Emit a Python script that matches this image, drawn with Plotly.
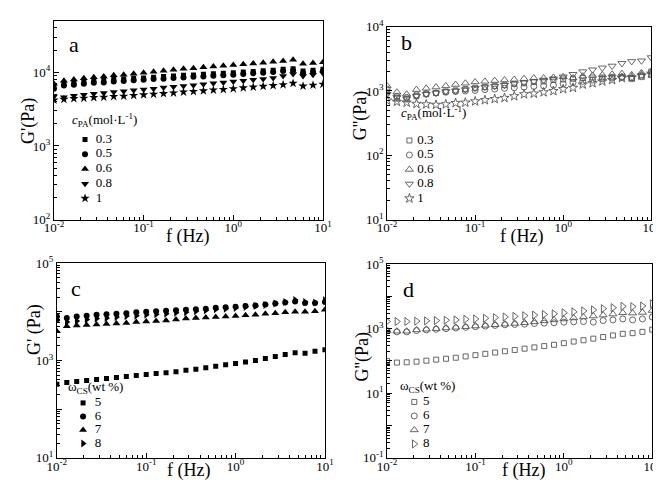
import plotly.graph_objects as go

# ---------------- data ----------------
freq = [0.01, 0.01292, 0.01668, 0.02154, 0.02783, 0.03594, 0.04642, 0.05995, 0.07743,
        0.1, 0.1292, 0.1668, 0.2154, 0.2783, 0.3594, 0.4642, 0.5995, 0.7743,
        1.0, 1.292, 1.668, 2.154, 2.783, 3.594, 4.642, 5.995, 7.743, 10.0]

# panel a: G' vs c_PA
cpa_labels = ["0.3", "0.5", "0.6", "0.8", "1"]
a_03 = [6500, 7000, 7200, 7400, 7600, 7800, 8000, 8100, 8300, 8400, 8600, 8800, 8900, 9100,
        9200, 9400, 9600, 9700, 9900, 10100, 10300, 10500, 10700, 11000, 11200, 10400, 10700, 11000]
a_05 = [6000, 6600, 6800, 7000, 7200, 7300, 7500, 7600, 7800, 7900, 8100, 8200, 8400, 8500,
        8700, 8800, 9000, 9100, 9300, 9500, 9700, 9900, 10100, 10400, 10600, 9800, 10100, 10400]
a_06 = [7000, 7700, 8000, 8300, 8600, 8800, 9100, 9300, 9600, 9900, 10200, 10500, 10800, 11200,
        11400, 11700, 12000, 12300, 12600, 12900, 13200, 13500, 13900, 14300, 14800, 13100, 13400, 13700]
a_08 = [4700, 4600, 4800, 4950, 5100, 5250, 5400, 5550, 5700, 5850, 6000, 6200, 6350, 6500,
        6700, 6900, 7100, 7300, 7500, 7700, 7900, 8100, 8400, 8900, 9500, 8900, 9300, 9700]
a_10 = [4200, 4300, 4400, 4450, 4550, 4600, 4700, 4750, 4850, 4950, 5050, 5150, 5250, 5400,
        5500, 5600, 5750, 5850, 6000, 6150, 6300, 6450, 6600, 6800, 7100, 6500, 6700, 6900]

# panel b: G'' vs c_PA
b_03 = [955, 760, 740, 830, 890, 930, 980, 1020, 1070, 1120, 1150, 1200, 1230, 1290,
        1320, 1380, 1410, 1480, 1510, 1550, 1590, 1620, 1620, 1660, 1660, 1590, 1740, 2000]
b_05 = [1070, 830, 795, 870, 910, 930, 955, 980, 1000, 1020, 1050, 1070, 1100, 1120,
        1150, 1180, 1200, 1230, 1290, 1350, 1410, 1480, 1550, 1590, 1620, 1550, 1660, 1780]
b_06 = [1200, 955, 890, 1050, 1100, 1150, 1200, 1260, 1320, 1380, 1410, 1450, 1480, 1510,
        1550, 1590, 1590, 1620, 1660, 1590, 1700, 1740, 1780, 1820, 1860, 1780, 1910, 2000]
b_08 = [890, 795, 760, 830, 890, 930, 980, 1000, 1050, 1100, 1150, 1180, 1230, 1290,
        1350, 1410, 1480, 1550, 1660, 1820, 2000, 2140, 2290, 2450, 2690, 2880, 2950, 3310]
b_10 = [710, 680, 660, 630, 620, 610, 620, 650, 660, 690, 720, 750, 780, 830,
        890, 910, 955, 1000, 1070, 1120, 1260, 1320, 1410, 1480, 1590, 1620, 1740, 1860]

# panel c: G' vs w_CS
wcs_labels = ["5", "6", "7", "8"]
c_5 = [324, 355, 372, 389, 407, 427, 447, 468, 490, 513, 537, 562, 589, 631,
       661, 708, 759, 813, 871, 933, 1000, 1096, 1202, 1318, 1445, 1413, 1549, 1660]
c_6 = [7940, 7410, 7940, 8320, 8710, 8910, 9120, 9330, 9770, 10000, 10230, 10470, 10720, 10960,
       11220, 11480, 12020, 12300, 12590, 13180, 13490, 14130, 14790, 15490, 16220, 15140, 15140, 15850]
c_7 = [3980, 5010, 5250, 5370, 5500, 5620, 5750, 5890, 6170, 6310, 6460, 6610, 6920, 7240,
       7410, 7590, 7760, 7940, 8130, 8510, 8710, 9120, 9330, 9770, 10000, 10000, 10230, 10960]
c_8 = [6610, 6170, 6460, 6920, 7240, 7410, 7760, 8130, 8320, 8710, 8910, 9120, 9550, 9770,
       10230, 10720, 11220, 11480, 12020, 12590, 13180, 13800, 14790, 15850, 17380, 15850, 15490, 17380]

# panel d: G'' vs w_CS
d_5 = [100, 89, 91, 95, 102, 110, 117, 126, 138, 151, 166, 182, 200, 219,
       240, 263, 288, 316, 355, 398, 437, 490, 550, 617, 692, 724, 794, 933]
d_6 = [851, 794, 794, 871, 912, 955, 1000, 1047, 1096, 1148, 1202, 1259, 1318, 1349,
       1380, 1445, 1479, 1514, 1585, 1622, 1660, 1585, 1778, 1862, 1995, 1862, 1995, 2291]
d_7 = [851, 832, 832, 912, 955, 1000, 1047, 1096, 1148, 1202, 1259, 1318, 1380, 1445,
       1514, 1622, 1738, 1862, 1995, 2138, 2291, 2455, 2630, 2818, 3090, 3020, 3162, 3631]
d_8 = [1660, 1660, 1660, 1698, 1738, 1778, 1820, 1862, 1950, 1995, 2089, 2188, 2291, 2399,
       2512, 2630, 2754, 2884, 3090, 3311, 3548, 3802, 4169, 4467, 4898, 4786, 5012, 5888]

x_tickvals = [0.01, 0.1, 1, 10]
x_ticktext = ["10<sup>-2</sup>", "10<sup>-1</sup>", "10<sup>0</sup>", "10<sup>1</sup>"]

cpa_title = "<i>c</i><sub>PA</sub>(mol·L<sup>-1</sup>)"
wcs_title = "ω<sub>CS</sub>(wt %)"

# ---------------- figure ----------------
FONT = "Liberation Serif"
W, H = 661, 483
fig = go.Figure()

sym_a = ["square", "circle", "triangle-up", "triangle-down", "star"]
sym_b = ["square-open", "circle-open", "triangle-up-open", "triangle-down-open", "star-open"]
sym_c = ["square", "circle", "triangle-up", "triangle-right"]
sym_d = ["square-open", "circle-open", "triangle-up-open", "triangle-right-open"]
size_5 = [5, 6, 7, 7, 7]
size_4 = [5, 6, 7, 7]


def marker_style(sym, sz, filled):
    if filled:
        return dict(symbol=sym, size=sz, color="black", line=dict(width=0))
    return dict(symbol=sym, size=sz, color="#555555", line=dict(width=0.9, color="#555555"))


def add_panel(series, labels, syms, sizes, k, filled, leg_k):
    xa, ya = ("x" if k == 1 else f"x{k}"), ("y" if k == 1 else f"y{k}")
    lxa, lya = f"x{leg_k}", f"y{leg_k}"
    for i, (s, lab, sym, sz) in enumerate(zip(series, labels, syms, sizes)):
        m = marker_style(sym, sz, filled)
        fig.add_trace(go.Scatter(x=freq, y=s, mode="markers", name=lab, marker=m,
                                 xaxis=xa, yaxis=ya, showlegend=False))
        # legend entry (key symbol + label) on a hidden legend axis
        fig.add_trace(go.Scatter(x=[0], y=[i], mode="markers", marker=m, xaxis=lxa, yaxis=lya,
                                 showlegend=False, cliponaxis=False, hoverinfo="skip"))
        fig.add_trace(go.Scatter(x=[1], y=[i], mode="text", text=[lab], textposition="middle right",
                                 textfont=dict(family=FONT, size=13, color="black"),
                                 xaxis=lxa, yaxis=lya, showlegend=False, cliponaxis=False,
                                 hoverinfo="skip"))


add_panel([a_03, a_05, a_06, a_08, a_10], cpa_labels, sym_a, size_5, 1, True, 5)
add_panel([b_03, b_05, b_06, b_08, b_10], cpa_labels, sym_b, size_5, 2, False, 6)
add_panel([c_5, c_6, c_7, c_8], wcs_labels, sym_c, size_4, 3, True, 7)
add_panel([d_5, d_6, d_7, d_8], wcs_labels, sym_d, size_4, 4, False, 8)


def axis_common():
    return dict(type="log", showline=True, linecolor="black", linewidth=1, mirror=True,
                ticks="inside", ticklen=5, tickcolor="black", tickwidth=1,
                showgrid=False, zeroline=False,
                tickfont=dict(family=FONT, size=13, color="black"),
                minor=dict(ticks="inside", ticklen=3, tickcolor="black", dtick="D1", showgrid=False))


def px(x0, x1):
    return [x0 / W, x1 / W]


def py(top, bottom):
    return [1 - bottom / H, 1 - top / H]


def xaxis(dom, anchor):
    d = axis_common()
    d.update(domain=dom, anchor=anchor, range=[-2, 1], tickmode="array",
             tickvals=x_tickvals, ticktext=x_ticktext, ticklabelstandoff=-4)
    return d


def yaxis(dom, anchor, rng, vals, texts):
    d = axis_common()
    d.update(domain=dom, anchor=anchor, range=rng, tickmode="array", tickvals=vals, ticktext=texts)
    return d


def legend_axes(mx, tx, y0, step, n, k):
    xa = dict(domain=px(mx, tx), range=[0, 1], visible=False, fixedrange=True, anchor=f"y{k}")
    ya = dict(domain=py(y0 - step / 2, y0 + step * (n - 0.5)), range=[n - 0.5, -0.5],
              visible=False, fixedrange=True, anchor=f"x{k}")
    return xa, ya


lx5, ly5 = legend_axes(69, 80, 127, 15.25, 5, 5)
lx6, ly6 = legend_axes(403, 411, 128, 15.0, 5, 6)
lx7, ly7 = legend_axes(67, 79, 400, 14.0, 4, 7)
lx8, ly8 = legend_axes(408, 417, 399, 14.5, 4, 8)

fig.update_layout(
    width=W, height=H, margin=dict(l=0, r=0, t=0, b=0),
    paper_bgcolor="white", plot_bgcolor="white",
    font=dict(family=FONT, color="black"),
    showlegend=False,
    xaxis=xaxis(px(37, 314), "y"),
    yaxis=yaxis(py(4, 210), "x", [2, 4.699], [100, 1000, 10000],
                ["10<sup>2</sup>", "10<sup>3</sup>", "10<sup>4</sup>"]),
    xaxis2=xaxis(px(380, 652), "y2"),
    yaxis2=yaxis(py(10, 210), "x2", [1, 4], [10, 100, 1000, 10000],
                 ["10<sup>1</sup>", "10<sup>2</sup>", "10<sup>3</sup>", "10<sup>4</sup>"]),
    xaxis3=xaxis(px(40, 316), "y3"),
    yaxis3=yaxis(py(255, 457), "x3", [1, 5], [10, 100, 1000, 10000, 100000],
                 ["10<sup>1</sup>", " ", "10<sup>3</sup>", " ", "10<sup>5</sup>"]),
    xaxis4=xaxis(px(380, 653), "y4"),
    yaxis4=yaxis(py(256, 457), "x4", [-1, 5], [0.1, 1, 10, 100, 1000, 10000, 100000],
                 ["10<sup>-1</sup>", " ", "10<sup>1</sup>", " ", "10<sup>3</sup>", " ", "10<sup>5</sup>"]),
    xaxis5=lx5, yaxis5=ly5, xaxis6=lx6, yaxis6=ly6,
    xaxis7=lx7, yaxis7=ly7, xaxis8=lx8, yaxis8=ly8,
)


def ann(text, x, y, size, angle=0, xanchor="center"):
    fig.add_annotation(text=text, x=x / W, y=1 - y / H, xref="paper", yref="paper",
                       showarrow=False, textangle=angle, xanchor=xanchor, yanchor="middle",
                       font=dict(family=FONT, size=size, color="black"))


# axis titles
ann("G'(Pa)", 10, 108, 18, -90)
ann("f (Hz)", 175, 228, 18)
ann("G''(Pa)", 353, 102, 18, -90)
ann("f (Hz)", 518, 228, 18)
ann("G' (Pa)", 17, 324, 18, -90)
ann("f (Hz)", 176, 470, 18)
ann("G''(Pa)", 355, 352, 18, -90)
ann("f (Hz)", 520, 470, 18)
# panel letters
ann("a", 58, 28, 22)
ann("b", 400, 26, 22)
ann("c", 60, 281, 22)
ann("d", 402, 282, 22)
# legend titles
ann(cpa_title, 54, 107, 13, xanchor="left")
ann(cpa_title, 392, 100, 13, xanchor="left")
ann(wcs_title, 49, 384, 13, xanchor="left")
ann(wcs_title, 391, 383, 13, xanchor="left")

fig.write_html("out.html")
